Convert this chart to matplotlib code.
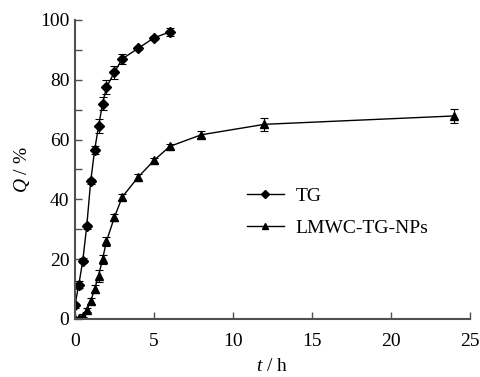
import numpy as np
import matplotlib.pyplot as plt

plt.rcParams['font.family'] = ['Liberation Serif', 'DejaVu Serif']
plt.rcParams['mathtext.fontset'] = 'custom'
plt.rcParams['mathtext.it'] = 'Liberation Serif:italic'
plt.rcParams['mathtext.rm'] = 'Liberation Serif'

# TG release
tg_t = [0, 0.25, 0.5, 0.75, 1, 1.25, 1.5, 1.75, 2, 2.5, 3, 4, 5, 6]
tg_q = [4.5, 11.5, 19.5, 31, 46, 56.5, 64.5, 72, 77.5, 82.5, 87, 90.5, 94, 96]
tg_err = [0.8, 1.2, 0.8, 0.8, 0.8, 1.2, 2.3, 2.2, 2.3, 2.2, 1.6, 0.6, 0.6, 1.3]

# LMWC-TG-NPs release
np_t = [0, 0.25, 0.5, 0.75, 1, 1.25, 1.5, 1.75, 2, 2.5, 3, 4, 5, 6, 8, 12, 24]
np_q = [0, 0.3, 1, 3, 6, 10, 14.5, 20, 26, 34, 40.8, 47.4, 53, 57.7, 61.6, 65.1, 67.9]
np_err = [0.3, 0.3, 0.5, 0.8, 1.0, 1.2, 2.0, 1.5, 1.5, 1.2, 1.0, 1.0, 0.8, 0.8, 1.2, 2.2, 2.2]

fig = plt.figure(figsize=(4.8, 3.77), dpi=100)
ax = fig.add_axes([0.156, 0.154, 0.823, 0.793])

tg = ax.errorbar(tg_t, tg_q, yerr=tg_err, color='black', marker='D', markersize=5,
                 linewidth=1, capsize=3, elinewidth=0.8, capthick=0.8)
nps = ax.errorbar(np_t, np_q, yerr=np_err, color='black', marker='^', markersize=6,
                  linewidth=1, capsize=3, elinewidth=0.8, capthick=0.8)

ax.set_xlim(0, 25)
ax.set_ylim(0, 100)
ax.set_xticks([0, 5, 10, 15, 20, 25])
ax.set_yticks([0, 20, 40, 60, 80, 100])
ax.set_yticks([10, 30, 50, 70, 90], minor=True)

for s in ['top', 'right']:
    ax.spines[s].set_visible(False)
for s in ['left', 'bottom']:
    ax.spines[s].set_linewidth(1.5)
    ax.spines[s].set_color('#505050')
ax.tick_params(direction='in', length=5, width=1.0, color='#505050', labelsize=14, pad=4)
ax.tick_params(axis='x', pad=10)
ax.tick_params(which='minor', direction='in', length=5, width=1.0, color='#505050')

ax.set_xlabel('$t$ / h', fontsize=14, labelpad=6)
ax.set_ylabel('$Q$ / %', fontsize=14, labelpad=6)

ax.legend([tg[0], nps[0]], ['TG', 'LMWC-TG-NPs'], loc='upper left',
          bbox_to_anchor=(0.435, 0.44), frameon=False, fontsize=14,
          handlelength=1.9, handletextpad=0.6, labelspacing=0.75, borderpad=0, borderaxespad=0,
          markerscale=0.8)

fig.savefig('out.png', dpi=100)
